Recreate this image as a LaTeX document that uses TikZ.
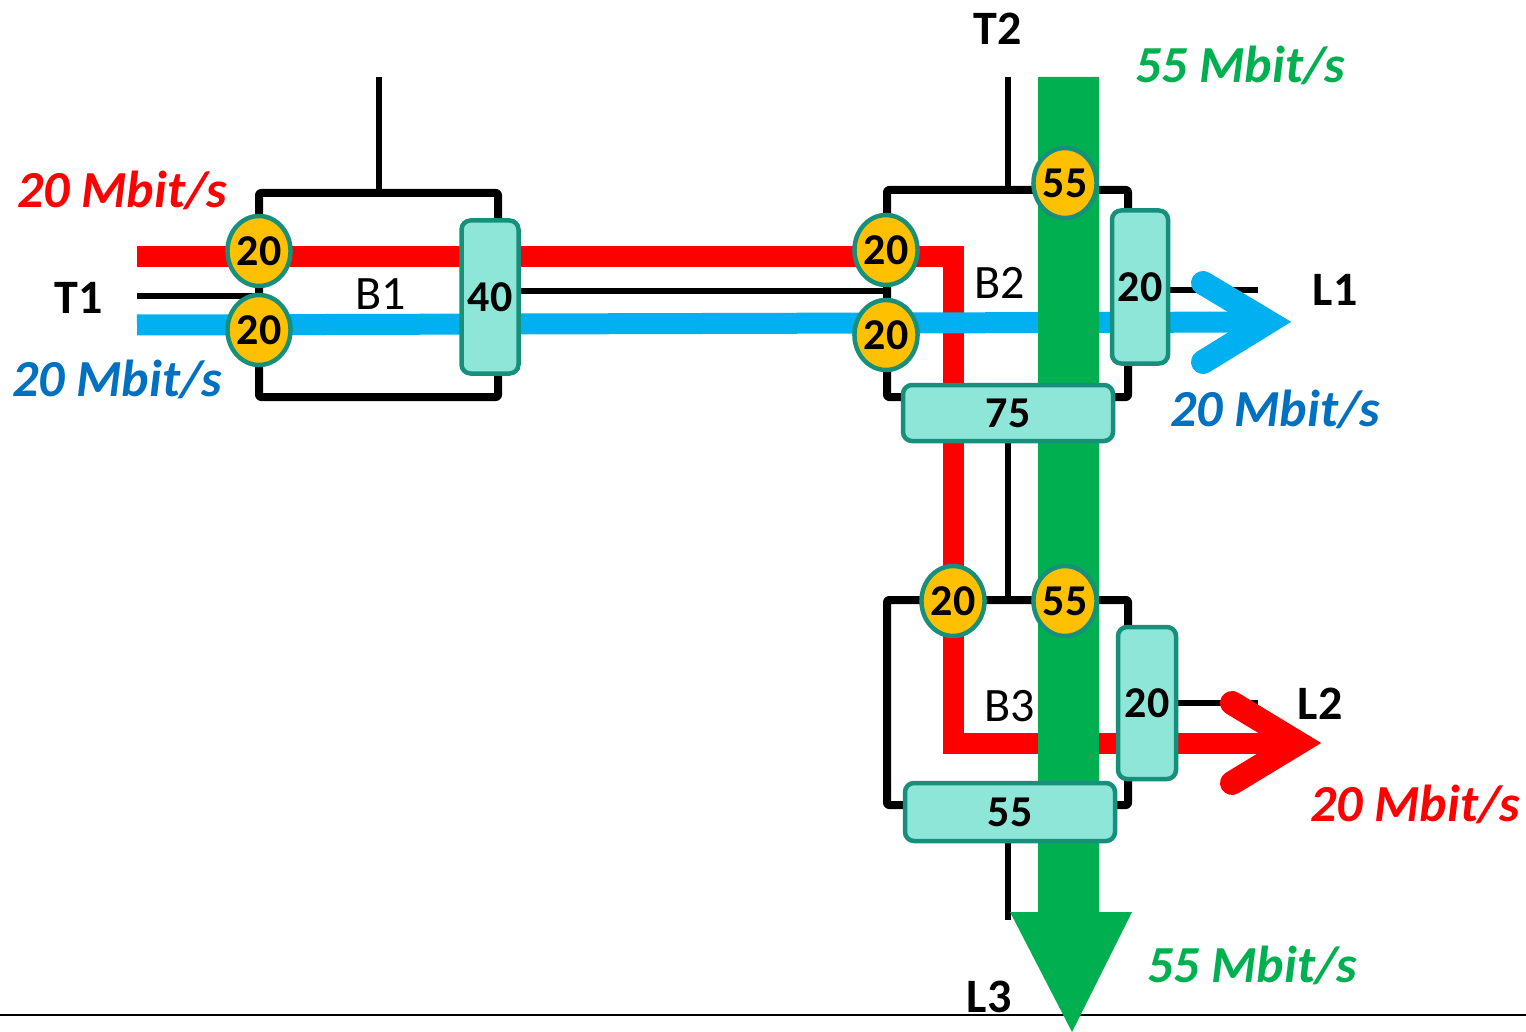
\documentclass[tikz,border=0pt]{standalone}
\usepackage{fontspec}
\setmainfont{Carlito}
\usetikzlibrary{shapes.geometric}
\definecolor{gold}{HTML}{FFC000}
\definecolor{tealdark}{HTML}{16907A}
\definecolor{lightteal}{HTML}{8EE6D8}
\definecolor{flowgreen}{HTML}{00B050}
\definecolor{flowblue}{HTML}{00B0F0}
\definecolor{textblue}{HTML}{0070C0}
\definecolor{flowred}{HTML}{FF0000}
\begin{document}
\begin{tikzpicture}[x=1pt,y=-1pt,
  busbox/.style={line width=8pt, line join=round, rounded corners=2pt},
  stem/.style={line width=5.5pt},
  circ/.style={ellipse, draw=tealdark, line width=4.5pt, fill=gold, minimum width=62pt, minimum height=70pt, inner sep=0pt, font=\fontsize{44}{48}\selectfont\bfseries},
  valbox/.style={draw=tealdark, fill=lightteal, line width=4.5pt, rounded corners=9pt, inner sep=0pt, font=\fontsize{44}{48}\selectfont\bfseries},
  rate/.style={anchor=base, font=\fontsize{52}{56}\selectfont\bfseries\itshape},
  tlabel/.style={anchor=base, font=\fontsize{48}{52}\selectfont\bfseries},
  blabel/.style={anchor=base, font=\fontsize{48}{52}\selectfont},
  redflow/.style={flowred, line width=21pt, line join=miter},
  blueflow/.style={flowblue, line width=21pt},
  chevron/.style={line width=24pt, line cap=round, line join=miter}
]
\useasboundingbox (0,0) rectangle (1526,1032);

% bottom line
\coordinate (bl) at (0,1015);
\coordinate (br) at (1526,1015);
\draw[line width=2pt] (bl) -- (br);

% coordinates
\coordinate (t1s) at (137,296);
\coordinate (t1e) at (259,296);
\coordinate (b1top) at (379,193);
\coordinate (b1stem) at (379,77);
\coordinate (b2top) at (1008,190);
\coordinate (b2stem) at (1008,77);
\coordinate (b2bot) at (1008,397);
\coordinate (b3top) at (1008,600);
\coordinate (b3bot) at (1008,805);
\coordinate (b3stem) at (1008,920);
\coordinate (lkA) at (498,291);
\coordinate (lkB) at (887,291);
\coordinate (l1a) at (1128,290);
\coordinate (l1b) at (1258,290);
\coordinate (l2a) at (1128,703);
\coordinate (l2b) at (1258,703);

% busbar boxes
\draw[busbox] (259,193) rectangle (498,397);
\draw[busbox] (887,190) rectangle (1128,397);
\draw[busbox] (887,600) rectangle (1128,805);
\draw[stem] (b1stem) -- (b1top);
\draw[stem] (b2stem) -- (b2top);
\draw[stem] (b2bot) -- (b3top);
\draw[stem] (b3bot) -- (b3stem);
\draw[stem] (t1s) -- (t1e);
\draw[stem] (lkA) -- (lkB);
\draw[stem] (l1a) -- (l1b);
\draw[stem] (l2a) -- (l2b);

% red flow
\coordinate (rs) at (137,257);
\coordinate (rc1) at (953,257);
\coordinate (rc2) at (953,743);
\coordinate (rtip) at (1298,743);
\draw[redflow] (rs) -- (rc1) -- (rc2) -- (rtip);
\draw[chevron, flowred] (1232,703) -- (rtip) -- (1232,783);

% blue flow
\coordinate (bs) at (137,325);
\coordinate (btip) at (1268,322);
\draw[blueflow] (bs) -- (btip);
\draw[chevron, flowblue] (1203,283) -- (btip) -- (1203,362);

% green flow
\fill[flowgreen] (1038,77) -- (1099,77) -- (1099,912) -- (1132,912) -- (1072,1032) -- (1010,912) -- (1038,912) -- cycle;

% value boxes
\node[valbox, minimum width=57pt, minimum height=153pt] (v40) at (490,297) {40};
\node[valbox, minimum width=56pt, minimum height=153pt] (v20a) at (1140,287) {20};
\node[valbox, minimum width=210pt, minimum height=56pt] (v75) at (1008,413) {75};
\node[valbox, minimum width=58pt, minimum height=152pt] (v20b) at (1147,703) {20};
\node[valbox, minimum width=210pt, minimum height=58pt] (v55) at (1010,812) {55};

% circles
\node[circ] (c1) at (259,251) {20};
\node[circ] (c2) at (259,330) {20};
\node[circ] (c3) at (886,250) {20};
\node[circ] (c4) at (886,335) {20};
\node[circ] (c5) at (1065,183) {55};
\node[circ] (c6) at (953,601) {20};
\node[circ] (c7) at (1065,601) {55};

% labels
\node[tlabel] (T1) at (79,313) {T1};
\node[tlabel] (T2) at (998,45) {T2};
\node[tlabel] (L1) at (1335,306) {L1};
\node[tlabel] (L2) at (1320,719) {L2};
\node[tlabel] (L3) at (989,1012) {L3};
\node[blabel] (B1) at (381,309) {B1};
\node[blabel] (B2) at (1000,299) {B2};
\node[blabel] (B3) at (1010,721) {B3};

% rates
\node[rate, flowred] (r1) at (122,208) {20 Mbit/s};
\node[rate, textblue] (r2) at (117,396) {20 Mbit/s};
\node[rate, flowgreen] (r3) at (1240,83) {55 Mbit/s};
\node[rate, textblue] (r4) at (1275,426) {20 Mbit/s};
\node[rate, flowred] (r5) at (1415,821) {20 Mbit/s};
\node[rate, flowgreen] (r6) at (1252,982) {55 Mbit/s};
\end{tikzpicture}
\end{document}
